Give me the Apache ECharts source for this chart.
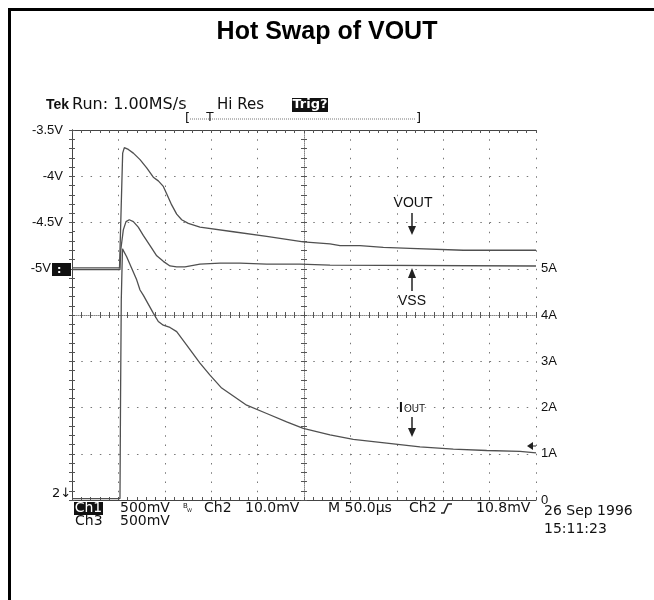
<!DOCTYPE html>
<html>
<head>
<meta charset="utf-8">
<title>Hot Swap of VOUT</title>
<script src="https://cdn.jsdelivr.net/npm/echarts@6/dist/echarts.min.js"></script>
<style>
    html, body { margin: 0; padding: 0; background: #fff; }
    #chart-container { width: 654px; height: 600px; }
</style>
</head>
<body>
<div id="chart-container"></div>
<script>
// time in microseconds, 10 divisions x 50us
var voutTime = [0, 51.2, 51.7, 54.6, 56.4, 60.7, 66.1, 73.3, 80.5, 87.6, 93.0, 98.4, 102.0, 107.4, 112.8, 118.2, 125.3, 137.9, 173.8, 209.8, 249.2, 278.0, 288.8, 310.3, 335.5, 364.2, 421.7, 500];
var voutVolts = [-4.99, -4.99, -4.98, -3.75, -3.69, -3.71, -3.75, -3.82, -3.91, -4.01, -4.05, -4.11, -4.19, -4.31, -4.41, -4.47, -4.51, -4.55, -4.60, -4.65, -4.71, -4.73, -4.75, -4.75, -4.77, -4.78, -4.80, -4.80];

var vssTime = [0, 51.7, 52.5, 55.3, 58.2, 61.7, 66.1, 71.4, 76.8, 84.1, 91.3, 98.4, 105.6, 112.8, 121.8, 137.9, 159.5, 181.0, 209.8, 245.7, 278.0, 500];
var vssVolts = [-5.01, -5.01, -4.80, -4.58, -4.49, -4.47, -4.49, -4.55, -4.64, -4.75, -4.86, -4.92, -4.97, -4.98, -4.98, -4.95, -4.94, -4.94, -4.95, -4.95, -4.96, -4.97];

var ioutTime = [0, 51.7, 52.3, 53.1, 54.4, 58.9, 64.3, 69.7, 73.3, 76.8, 87.6, 93.0, 98.4, 105.6, 112.8, 123.6, 137.9, 148.7, 161.3, 173.8, 188.2, 209.8, 231.3, 249.2, 278.0, 303.1, 339.1, 375.0, 410.9, 446.9, 482.8, 500];
var ioutAmps = [0.03, 0.03, 2.16, 4.32, 5.43, 5.26, 5.01, 4.76, 4.54, 4.43, 4.04, 3.86, 3.78, 3.73, 3.64, 3.35, 2.96, 2.70, 2.42, 2.25, 2.05, 1.87, 1.69, 1.55, 1.41, 1.31, 1.23, 1.15, 1.10, 1.07, 1.05, 1.02];

var voltTickValues = [-3.5, -4, -4.5, -5];
var voltTickLabels = ['-3.5V', '-4V', '-4.5V', '-5V'];
var ampTickValues = [0, 1, 2, 3, 4, 5];
var ampTickLabels = ['0', '1A', '2A', '3A', '4A', '5A'];

function pairs(xs, ys) {
    return xs.map(function (x, i) { return [x, ys[i]]; });
}

function findLabel(values, labels, v) {
    for (var i = 0; i < values.length; i++) {
        if (Math.abs(values[i] - v) < 1e-6) return labels[i];
    }
    return '';
}

var tickColor = '#555';
var frameColor = '#444';

function timeAxis(position, offset, inside, lineStyle) {
    return {
        type: 'value', min: 0, max: 500, interval: 50,
        position: position, offset: offset,
        axisLine: { show: !!lineStyle, lineStyle: lineStyle || {} },
        axisTick: { show: true, inside: inside, length: 3, lineStyle: { color: tickColor } },
        minorTick: { show: true, splitNumber: 5, length: 3, lineStyle: { color: tickColor } },
        axisLabel: { show: false },
        splitLine: { show: false }
    };
}

function voltAxis(position, offset, inside, lineStyle) {
    return {
        type: 'value', min: -7.5, max: -3.5, interval: 0.5,
        position: position, offset: offset,
        axisLine: { show: !!lineStyle, lineStyle: lineStyle || {} },
        axisTick: { show: true, inside: inside, length: 3, lineStyle: { color: tickColor } },
        minorTick: { show: true, splitNumber: 5, length: 3, lineStyle: { color: tickColor } },
        axisLabel: { show: false },
        splitLine: { show: false }
    };
}

var frameLine = { color: frameColor, width: 1 };
var centerLine = { color: '#888', width: 1, type: [1, 1] };

var xAxes = [
    timeAxis('bottom', 0, true, frameLine),
    timeAxis('top', 0, true, frameLine),
    timeAxis('top', -185, false, centerLine),
    timeAxis('bottom', -185, false, null)
];
xAxes[0].splitLine = { show: true, lineStyle: { color: '#777', width: 1, type: [1.5, 7.75] } };

var yAxes = [
    voltAxis('left', 0, true, frameLine),
    {
        type: 'value', min: 0, max: 8, interval: 1, position: 'right',
        axisLine: { show: true, lineStyle: frameLine },
        axisTick: { show: true, inside: true, length: 3, lineStyle: { color: tickColor } },
        minorTick: { show: true, splitNumber: 5, length: 3, lineStyle: { color: tickColor } },
        axisLabel: {
            margin: 5, color: '#111', fontFamily: 'Liberation Sans', fontSize: 13,
            formatter: function (v) { return findLabel(ampTickValues, ampTickLabels, v); }
        },
        splitLine: { show: false }
    },
    voltAxis('left', -232, false, centerLine),
    voltAxis('right', -232, false, null)
];
yAxes[0].splitLine = { show: true, lineStyle: { color: '#777', width: 1, type: [1.5, 7.78] } };
yAxes[0].axisLabel = {
    show: true, margin: 9, color: '#111', fontFamily: 'Liberation Sans', fontSize: 13,
    formatter: function (v) {
        var s = findLabel(voltTickValues, voltTickLabels, v);
        if (Math.abs(v + 5) < 1e-6) return '{m|' + s + '}';
        return s;
    },
    rich: { m: { padding: [0, 12, 0, 0], color: '#111', fontFamily: 'Liberation Sans', fontSize: 13 } }
};

function txt(x, y, s, font, align, color) {
    return {
        type: 'text', x: x, y: y, z: 100,
        style: { text: s, font: font, fill: color || '#111', textAlign: align || 'left', textVerticalAlign: 'middle' }
    };
}

function box(x, y, w, h) {
    return { type: 'rect', z: 99, shape: { x: x, y: y, width: w, height: h }, style: { fill: '#111' } };
}

function line(pts, color, width, dash) {
    return { type: 'polyline', z: 100, shape: { points: pts },
        style: { stroke: color || '#222', lineWidth: width || 1, fill: null, lineDash: dash || null } };
}

function tri(pts) {
    return { type: 'polygon', z: 100, shape: { points: pts }, style: { fill: '#222' } };
}

var scopeFont = '14px "DejaVu Sans"';
var topFont = '15px "DejaVu Sans"';
var labelFont = '14px "Liberation Sans"';

var graphics = [
    // outer frame
    line([[9.5, 600], [9.5, 9.5], [654, 9.5]], '#000', 3),
    txt(327, 32, 'Hot Swap of VOUT', 'bold 25px "Liberation Sans"', 'center', '#000'),

    // top status line
    txt(69, 105, 'Tek', 'bold 14px "Liberation Sans"', 'right'),
    txt(72, 105, 'Run: 1.00MS/s', '16px "DejaVu Sans"'),
    txt(217, 105, 'Hi Res', topFont),
    box(292, 98, 36, 14),
    txt(310, 105, 'Trig?', 'bold 13px "DejaVu Sans"', 'center', '#fff'),
    txt(185, 119, '[', '13px "DejaVu Sans"'),
    line([[190, 119], [416, 119]], '#777', 1, [1, 1]),
    txt(210, 118, 'T', '12px "DejaVu Sans"', 'center'),
    txt(416, 119, ']', '13px "DejaVu Sans"'),

    // trace labels
    txt(413, 203, 'VOUT', labelFont, 'center'),
    line([[412, 213], [412, 227]], '#222', 1.5),
    tri([[408, 226], [416, 226], [412, 235]]),
    tri([[408, 278], [416, 278], [412, 268]]),
    line([[412, 277], [412, 291]], '#222', 1.5),
    txt(412, 301, 'VSS', labelFont, 'center'),
    txt(399, 408, 'I', 'bold 14px "Liberation Sans"'),
    txt(404, 409, 'OUT', '10px "Liberation Sans"'),
    line([[412, 417], [412, 429]], '#222', 1.5),
    tri([[408, 428], [416, 428], [412, 437]]),

    // channel markers
    box(52, 263, 19, 13),
    txt(57, 270, ':', 'bold 11px "DejaVu Sans"', 'left', '#fff'),
    txt(52, 494, '2\u2193', '13px "DejaVu Sans"'),
    tri([[527, 446], [533, 442], [533, 450]]),
    line([[533, 446], [536, 446]], '#222', 1),

    // bottom status lines
    box(74, 502, 29, 13),
    txt(88.5, 508.5, 'Ch1', scopeFont, 'center', '#fff'),
    txt(120, 508.5, '500mV', scopeFont),
    txt(183, 506, 'B', '7px "DejaVu Sans"'),
    txt(187, 511, 'W', '5px "DejaVu Sans"'),
    txt(204, 508.5, 'Ch2', scopeFont),
    txt(245, 508.5, '10.0mV', scopeFont),
    txt(328, 508.5, 'M 50.0\u00b5s', scopeFont),
    txt(409, 508.5, 'Ch2', scopeFont),
    line([[441, 513], [444, 513], [448, 504], [452, 504]], '#222', 1.5),
    txt(476, 508.5, '10.8mV', scopeFont),
    txt(75, 521, 'Ch3', scopeFont),
    txt(120, 521, '500mV', scopeFont),
    txt(544, 511, '26 Sep 1996', scopeFont),
    txt(544, 529, '15:11:23', scopeFont)
];

function traceSeries(name, data, yIndex) {
    return {
        name: name, type: 'line', xAxisIndex: 0, yAxisIndex: yIndex,
        data: data, symbol: 'none', smooth: false,
        lineStyle: { color: '#505050', width: 1.3 }
    };
}

var chart = echarts.init(document.getElementById('chart-container'), null, { renderer: 'canvas' });
chart.setOption({
    animation: false,
    backgroundColor: '#fff',
    grid: { left: 72, top: 130, width: 464, height: 370, containLabel: false },
    xAxis: xAxes,
    yAxis: yAxes,
    series: [
        traceSeries('VOUT', pairs(voutTime, voutVolts), 0),
        traceSeries('VSS', pairs(vssTime, vssVolts), 0),
        traceSeries('IOUT', pairs(ioutTime, ioutAmps), 1)
    ],
    graphic: graphics
});
</script>
</body>
</html>
